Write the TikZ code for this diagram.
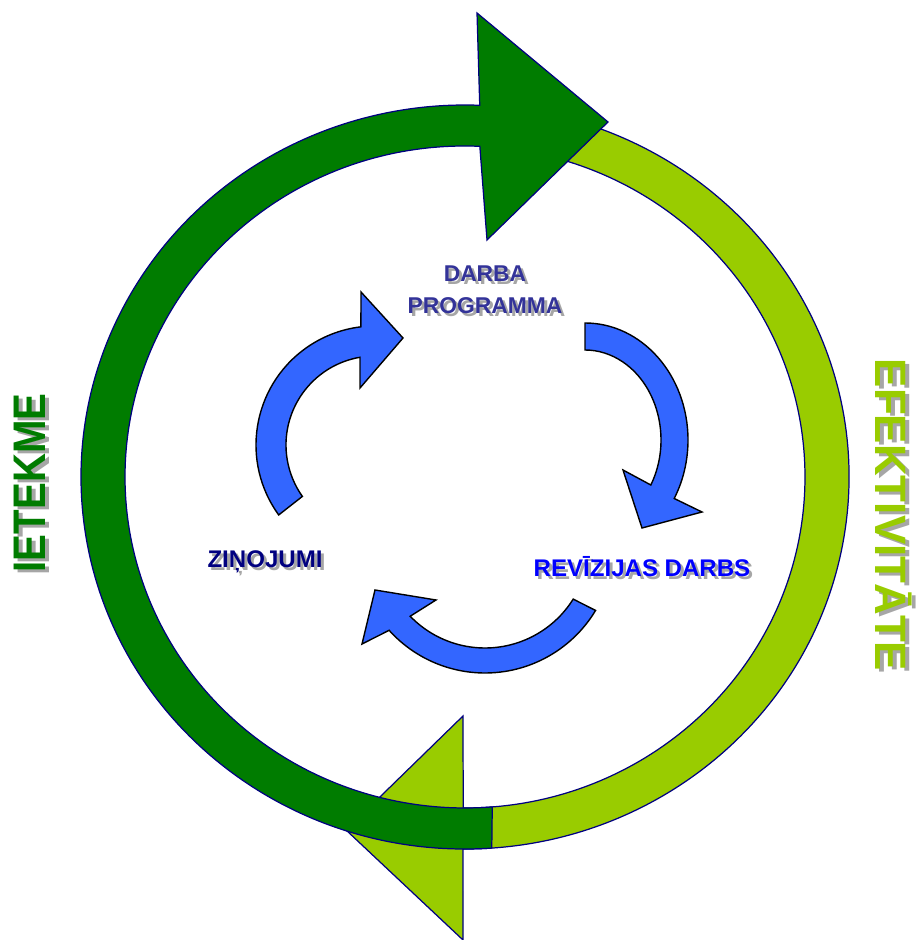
\documentclass[tikz,border=0pt]{standalone}
\usepackage{fontspec}
\setmainfont{Liberation Sans}
\newfontfamily\narrowsans[FakeStretch=0.88]{Liberation Sans}
\usetikzlibrary{calc}
\definecolor{banddark}{HTML}{007C00}
\definecolor{bandlight}{HTML}{99CC00}
\definecolor{bandline}{HTML}{000080}
\definecolor{arrowblue}{HTML}{3366FF}
\definecolor{darbablue}{HTML}{333399}
\definecolor{zinnavy}{HTML}{000080}
\definecolor{revblue}{HTML}{0000FF}
\definecolor{textshade}{HTML}{A6A6A6}

\begin{document}
\begin{tikzpicture}[x=0.02cm, y=0.02cm,
    greenband/.style={draw=bandline, line width=0.7pt, line join=miter},
    bluearrow/.style={draw=black, fill=arrowblue, line width=0.8pt, line join=miter},
    steptext/.style={font=\bfseries\fontsize{13}{18.5}\selectfont, align=center, inner sep=0pt},
    bigstep/.style={steptext, font=\bfseries\fontsize{13.7}{18.5}\selectfont},
    sidetext/.style={font=\narrowsans\bfseries\fontsize{26}{30}\selectfont, inner sep=0pt}]
    \useasboundingbox (0,0) rectangle (923,940);
    \coordinate (ring) at (465,463);

    \filldraw[greenband, fill=bandlight] ($(ring)+(80:384 and 372)$)
        arc[start angle=80, end angle=-90.3, x radius=384, y radius=372]
        -- (463,0) -- (346,110) -- (463,224)
        -- ($(ring)+(-90.3:340 and 331)$)
        arc[start angle=-90.3, end angle=80, x radius=340, y radius=331] -- cycle;

    \filldraw[greenband, fill=banddark] ($(ring)+(274:384 and 372)$)
        arc[start angle=274, end angle=87.8, x radius=384, y radius=372]
        -- (477,927) -- (608,818) -- (487,700)
        -- ($(ring)+(87.5:340 and 331)$)
        arc[start angle=87.5, end angle=274.6, x radius=340, y radius=331] -- cycle;

    \coordinate (arrowa) at (375,495);
    \coordinate (arrowb) at (585,500);
    \coordinate (arrowc) at (485,396);

    \filldraw[bluearrow] ($(arrowa)+(216:119)$)
        arc[start angle=216, end angle=96.8, radius=119]
        -- (361,648) -- (403,602) -- (360,552)
        -- ($(arrowa)+(99.7:89)$)
        arc[start angle=99.7, end angle=215.3, radius=89] -- cycle;

    \filldraw[bluearrow] ($(arrowb)+(90:103 and 117)$)
        arc[start angle=90, end angle=-30, x radius=103, y radius=117]
        -- (702,428) -- (642,412) -- (623,470)
        -- ($(arrowb)+(-30:76 and 90)$)
        arc[start angle=-30, end angle=90, x radius=76, y radius=90] -- cycle;

    \filldraw[bluearrow] ($(arrowc)+(-31:129)$)
        arc[start angle=-31, end angle=-138, radius=129]
        -- (362,296) -- (375,350) -- (436,340)
        -- ($(arrowc)+(-136:104)$)
        arc[start angle=-136, end angle=-32, radius=104] -- cycle;

    \node[steptext, text=textshade] (darba-shadow) at (488,647) {DARBA\\PROGRAMMA};
    \node[steptext, text=darbablue] (darba) at (485,650) {DARBA\\PROGRAMMA};
    \node[bigstep, text=textshade] (zinojumi-shadow) at (268,375) {ZIŅOJUMI};
    \node[bigstep, text=zinnavy] (zinojumi) at (265,378) {ZIŅOJUMI};
    \node[bigstep, text=textshade] (revizijas-shadow) at (645,370) {REVĪZIJAS DARBS};
    \node[bigstep, text=revblue] (revizijas) at (642,373) {REVĪZIJAS DARBS};

    \node[sidetext, rotate=90, text=textshade] (ietekme-shadow) at (34,454) {IETEKME};
    \node[sidetext, rotate=90, text=banddark] (ietekme) at (30,457) {IETEKME};
    \node[sidetext, rotate=-90, text=textshade, font=\bfseries\fontsize{25}{30}\selectfont] (efekt-shadow) at (898,422) {EFEKTIVITĀTE};
    \node[sidetext, rotate=-90, text=bandlight, font=\bfseries\fontsize{25}{30}\selectfont] (efekt) at (894,425) {EFEKTIVITĀTE};
\end{tikzpicture}
\end{document}
